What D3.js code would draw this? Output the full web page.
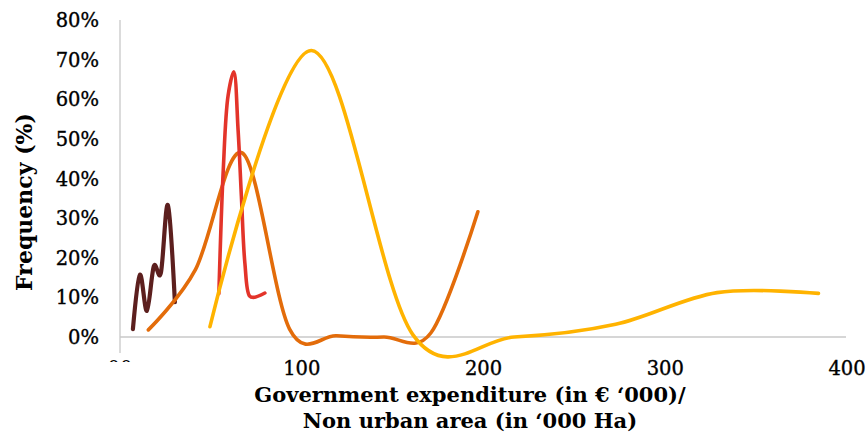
<!DOCTYPE html>
<html>
<head>
<meta charset="utf-8">
<script src="https://cdn.jsdelivr.net/npm/d3@7"></script>
<style>
  html, body { margin: 0; padding: 0; background: #fff; }
  svg { display: block; }
  text { font-family: "DejaVu Serif", "Liberation Serif", serif; fill: #000; }
</style>
</head>
<body>
<svg id="chart" width="868" height="433"></svg>
<script>
// Frequency distributions of expenditure per non-urban hectare
// (x: € '000 per '000 Ha; y: share of cases in %)
const seriesBrown = [
  [7.1, 2.0], [10.95, 15.7], [14.8, 6.6], [18.65, 17.9], [22.5, 16.2], [26.35, 33.3], [30.2, 8.8]
];
const seriesOrange = [
  [15.6, 1.8], [41.5, 17.0], [67.4, 46.4], [93.3, 2.0], [119.2, 0.3], [145.1, 0.0],
  [171.0, 1.0], [196.9, 31.6]
];
const seriesRed = [
  [54.4, 10.9], [56.8, 42.0], [59.5, 61.0], [62.6, 66.9], [65.0, 52.0], [66.8, 35.4],
  [68.7, 18.7], [71.2, 10.4], [73.5, 10.0], [79.7, 11.1]
];
const seriesYellow = [
  [49.5, 2.6], [105.3, 72.3], [161.1, 0.6], [216.9, 0.0], [272.7, 3.2], [328.5, 11.2], [384.3, 11.0]
];
const xTicks = [100, 200, 300, 400];
const yTicks = [0, 10, 20, 30, 40, 50, 60, 70, 80];
const xTitle = ["Government expenditure (in € ‘000)/", "Non urban area (in ‘000 Ha)"];
const yTitle = "Frequency (%)";

const smooth = d3.curveCardinal.tension(0);
const series = [
  { data: seriesBrown, color: "#5c1f1e", width: 4.2, curve: smooth },
  { data: seriesOrange, color: "#e36c0a", width: 3.6, curve: smooth },
  { data: seriesRed, color: "#e3342a", width: 3.6, curve: d3.curveCatmullRom.alpha(0.5) },
  { data: seriesYellow, color: "#ffb300", width: 3.6, curve: smooth }
];

const svg = d3.select("#chart");
const x = d3.scaleLinear().domain([0, 400]).range([120, 847]);
const y = d3.scaleLinear().domain([0, 80]).range([337, 20]);

// axis lines
svg.append("line").attr("x1", x(0)).attr("x2", 846).attr("y1", y(0)).attr("y2", y(0))
  .attr("stroke", "#c8c8c8").attr("stroke-width", 1.3);
svg.append("line").attr("x1", x(0)).attr("x2", x(0)).attr("y1", y(80)).attr("y2", 353)
  .attr("stroke", "#c8c8c8").attr("stroke-width", 1.3);

// y tick labels
svg.append("g").selectAll("text").data(yTicks).join("text")
  .attr("x", 99).attr("y", d => y(d)).attr("dy", "0.36em")
  .attr("text-anchor", "end").attr("font-size", 19.5)
  .attr("stroke", "#000").attr("stroke-width", 0.35)
  .text(d => d + "%");

// x tick labels
svg.append("g").selectAll("text").data(xTicks).join("text")
  .attr("x", d => x(d)).attr("y", 375)
  .attr("text-anchor", "middle").attr("font-size", 19.5)
  .attr("stroke", "#000").attr("stroke-width", 0.35)
  .text(d => d);

// origin label, partly covered by the plot edge
svg.append("clipPath").attr("id", "originClip")
  .append("rect").attr("x", 95).attr("y", 350).attr("width", 50).attr("height", 12);
svg.append("text").attr("clip-path", "url(#originClip)")
  .attr("x", x(0)).attr("y", 375).attr("text-anchor", "middle").attr("font-size", 19.5)
  .text("00");

// smoothed curves
svg.append("g").selectAll("path").data(series).join("path")
  .attr("d", s => d3.line().x(d => x(d[0])).y(d => y(d[1])).curve(s.curve)(s.data))
  .attr("fill", "none")
  .attr("stroke", s => s.color)
  .attr("stroke-width", s => s.width)
  .attr("stroke-linecap", "round")
  .attr("stroke-linejoin", "round");

// axis titles
svg.append("text").attr("x", 470).attr("y", 402).attr("text-anchor", "middle")
  .attr("font-size", 21).attr("font-weight", "bold").text(xTitle[0]);
svg.append("text").attr("x", 470).attr("y", 428).attr("text-anchor", "middle")
  .attr("font-size", 21).attr("font-weight", "bold").text(xTitle[1]);
svg.append("text").attr("transform", "translate(32,202) rotate(-90)")
  .attr("text-anchor", "middle").attr("font-size", 22).attr("font-weight", "bold")
  .text(yTitle);
</script>
</body>
</html>
